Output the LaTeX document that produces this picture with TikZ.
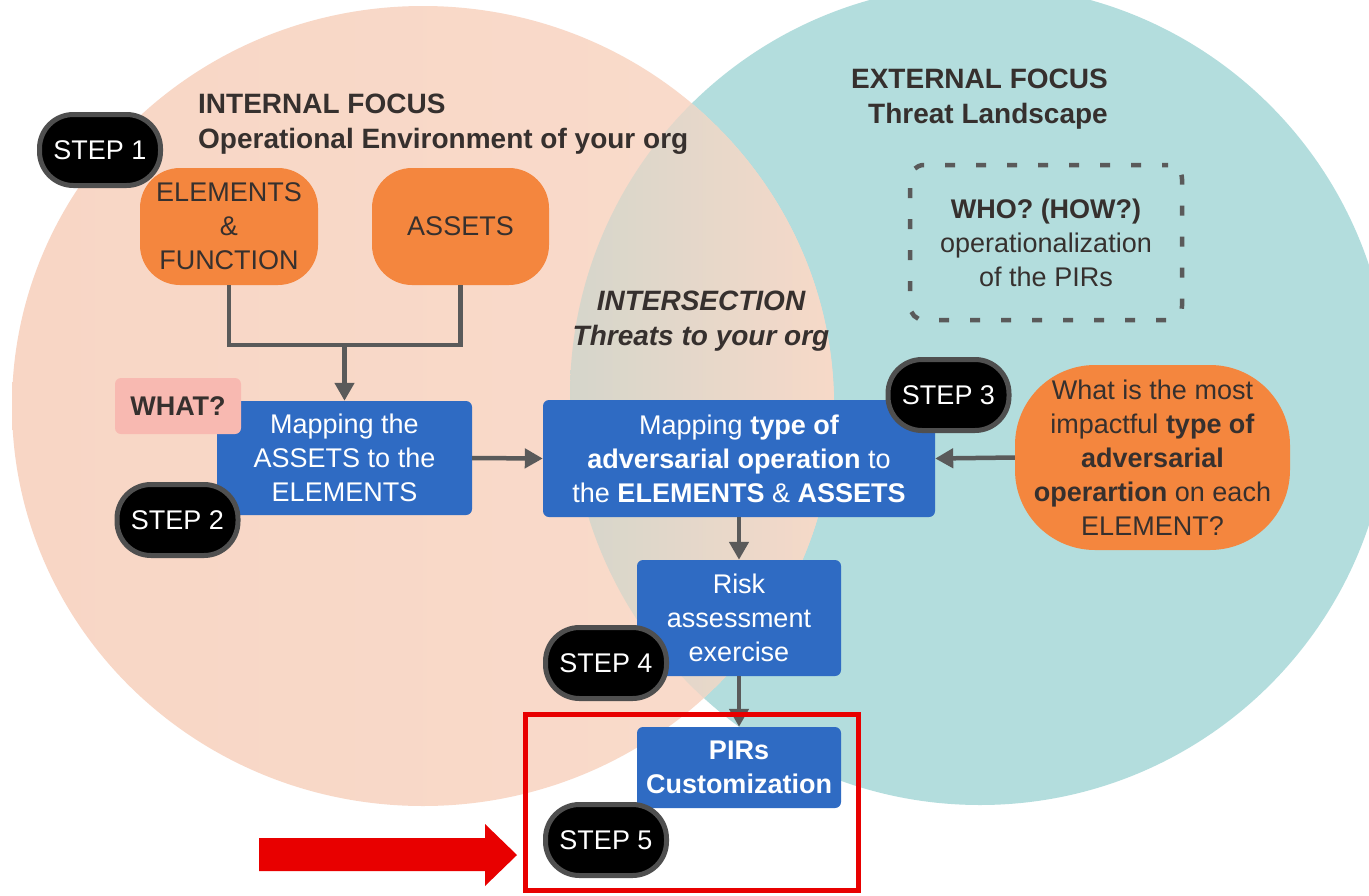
\documentclass[tikz,border=0pt]{standalone}
\usepackage{fontspec}
\setmainfont{Liberation Sans}
\usetikzlibrary{arrows.meta}
\definecolor{peachL}{HTML}{F8D6C5}
\definecolor{peachM}{HTML}{FDE8DE}
\definecolor{peachR}{HTML}{F9DBCB}
\definecolor{tealbg}{HTML}{B3DDDD}
\definecolor{mixL}{HTML}{D5D6CB}
\definecolor{mixM}{HTML}{E8DBCE}
\definecolor{mixR}{HTML}{F7D9C8}
\definecolor{boxblue}{HTML}{2F6BC3}
\definecolor{boxorange}{HTML}{F4863E}
\definecolor{whatpink}{HTML}{F8B9B1}
\definecolor{inktext}{HTML}{36302E}
\definecolor{connector}{HTML}{5A5A5A}
\definecolor{pillrim}{HTML}{4F4F4F}
\definecolor{alertred}{HTML}{E80000}

\begin{document}
\begin{tikzpicture}[x=1pt,y=-1pt,
  every node/.style={font=\fontsize{27}{34}\selectfont, inner sep=0pt, align=center},
  bluebox/.style={rectangle, rounded corners=6pt, fill=boxblue, text=white},
  orangebox/.style={rectangle, rounded corners=40pt, fill=boxorange, text=inktext},
  stepbox/.style={rectangle, rounded corners=34pt, fill=black, draw=pillrim,
    line width=5pt, text=white, minimum width=121pt, minimum height=71pt},
  heading/.style={font=\fontsize{28}{35}\selectfont\bfseries, text=inktext},
  conn/.style={draw=connector, line width=4.5pt},
  arr/.style={conn, -{Triangle[length=18pt,width=19pt]}},
]
\clip (0,0) rectangle (1369,895);
\fill[white] (0,0) rectangle (1369,895);

% the two focus areas
\fill[tealbg] (980,395) circle[radius=410];
\shade[left color=peachL, middle color=peachM, right color=peachR]
  (423,406) ellipse[x radius=411, y radius=400];
\begin{scope}
  \clip (980,395) circle[radius=410];
  \clip (423,406) ellipse[x radius=411, y radius=400];
  \shade[left color=mixL, middle color=mixM, right color=mixR]
    (568,0) rectangle (836,895);
\end{scope}

% area titles
\node[heading, align=left, anchor=west] (inttitle) at (198,124)
  {INTERNAL FOCUS\\Operational Environment of your org};
\node[heading, align=right, anchor=east] (exttitle) at (1108,99)
  {EXTERNAL FOCUS\\Threat Landscape};
\node[heading, font=\fontsize{28}{35}\selectfont\bfseries\itshape] (sectitle) at (701,321)
  {INTERSECTION\\Threats to your org};

% process boxes
\node[orangebox, minimum width=178pt, minimum height=117pt] (ef) at (229,226.5)
  {ELEMENTS\\\&\\FUNCTION};
\node[orangebox, minimum width=177pt, minimum height=117pt] (assets) at (460.5,226.5)
  {ASSETS};
\node[bluebox, minimum width=255pt, minimum height=114pt] (b1) at (344.5,458)
  {Mapping the\\ASSETS to the\\ELEMENTS};
\node[bluebox, minimum width=392pt, minimum height=117pt] (b2) at (739,458.5)
  {Mapping \textbf{type of}\\\textbf{adversarial operation} to\\the \textbf{ELEMENTS} \& \textbf{ASSETS}};
\node[bluebox, minimum width=204pt, minimum height=116pt] (b3) at (739,618)
  {Risk\\assessment\\exercise};
\node[bluebox, minimum width=204pt, minimum height=81pt, font=\fontsize{27}{34}\selectfont\bfseries] (b4) at (739,767.5)
  {PIRs\\Customization};
\node[orangebox, rounded corners=80pt, minimum width=275pt, minimum height=185pt] (q) at (1152.5,457.5)
  {What is the most\\impactful \textbf{type of}\\\textbf{adversarial}\\\textbf{operartion} on each\\ELEMENT?};
\node[draw=connector, line width=4.5pt, dash pattern=on 10pt off 21pt, dash phase=4pt,
  rounded corners=14pt, minimum width=272pt, minimum height=155pt, text=inktext] (who) at (1046,242.5)
  {\textbf{WHO? (HOW?)}\\operationalization\\of the PIRs};

% connectors
\coordinate (jn) at (344.5,345);
\draw[conn] (ef.south) |- (jn) -| (assets.south);
\draw[arr] (jn) -- (b1.north);
\draw[arr] (b1.east) -- (b2.west);
\draw[arr] (q.west) -- (b2.east);
\draw[arr] (b2.south) -- (b3.north);
\draw[arr] (b3.south) -- (b4.north);

% labels on top
\node[rectangle, rounded corners=6pt, fill=whatpink, text=inktext, minimum width=126pt,
  minimum height=56pt, font=\fontsize{27}{34}\selectfont\bfseries] (what) at (178,406) {WHAT?};
\node[stepbox] (s1) at (100,150) {STEP 1};
\node[stepbox] (s2) at (177.5,520) {STEP 2};
\node[stepbox] (s3) at (948.5,395) {STEP 3};
\node[stepbox] (s4) at (606,663) {STEP 4};
\node[stepbox] (s5) at (606,840) {STEP 5};

% highlight of the final step
\node[draw=alertred, line width=5pt, minimum width=333pt, minimum height=176pt] (focus) at (691.5,802) {};
\fill[alertred] (259,838) -- (485,838) -- (485,824) -- (517,855) -- (485,886)
  -- (485,871) -- (259,871) -- cycle;
\end{tikzpicture}
\end{document}
